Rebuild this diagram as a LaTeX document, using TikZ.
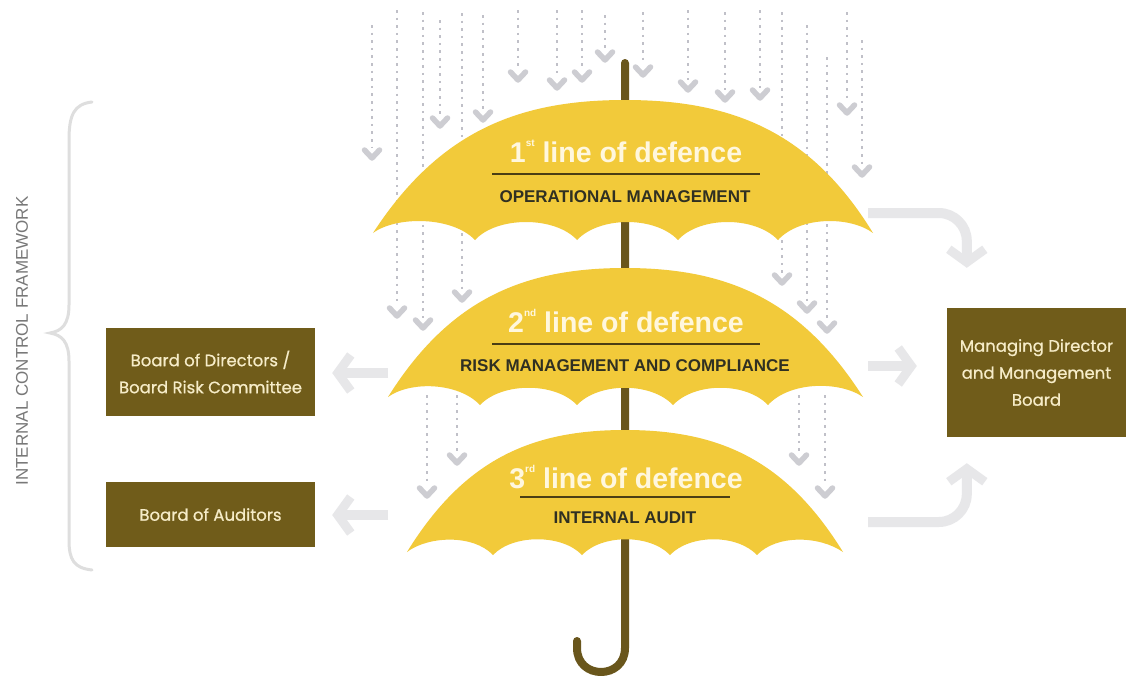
\documentclass[tikz,border=0pt]{standalone}
\usepackage{fontspec}
\setmainfont{Liberation Sans}
\newfontfamily\boxfont{Poppins}[FakeBold=0.7]
\usetikzlibrary{arrows.meta}
\definecolor{umyellow}{RGB}{242,202,58}
\definecolor{stemc}{RGB}{105,86,28}
\definecolor{boxc}{RGB}{112,92,26}
\definecolor{boxtext}{RGB}{246,236,200}
\definecolor{titlec}{RGB}{255,247,222}
\definecolor{subc}{RGB}{48,48,34}
\definecolor{linec}{RGB}{75,62,20}
\definecolor{arrowc}{RGB}{231,231,233}
\definecolor{dropc}{RGB}{192,192,200}
\definecolor{chevc}{RGB}{205,205,210}
\definecolor{bracec}{RGB}{222,222,222}
\definecolor{sidec}{RGB}{120,120,120}
\newcommand\ordsup[1]{\raisebox{0.55em}{\fontsize{10}{10}\selectfont #1}}
\begin{document}
\begin{tikzpicture}[x=1pt,y=-1pt,
  canopy/.style={fill=umyellow,draw=none},
  stemline/.style={draw=stemc,line width=8pt,line cap=round},
  dropline/.style={draw=dropc,line width=2.6pt,dash pattern=on 2.6pt off 5pt},
  chev/.style={draw=chevc,line width=5.5pt,line cap=round,line join=round},
  titletext/.style={text=titlec,font=\bfseries\fontsize{28.5}{32}\selectfont,anchor=base,inner sep=0pt},
  subtext/.style={text=subc,font=\bfseries\fontsize{17}{20}\selectfont,anchor=base,inner sep=0pt},
  rule/.style={draw=linec,line width=2.2pt},
  boxn/.style={fill=boxc,text=boxtext,align=center,inner sep=0pt,
    font=\boxfont\fontsize{16.5}{27}\selectfont},
  garrow/.style={draw=arrowc,line width=10pt,
    -{Straight Barb[length=13pt,width=36pt,line width=9pt]}},
  bracel/.style={draw=bracec,line width=3pt,line cap=round},
  sidetext/.style={text=sidec,font=\fontsize{17}{20}\selectfont,inner sep=0pt}
]
\useasboundingbox[fill=white] (0,0) rectangle (1126,675);

% brace and side label
\draw[bracel] (92,102) .. controls (74,104) and (69,115) .. (69,140) -- (69,305)
  .. controls (69,324) and (62,331) .. (50,333) .. controls (62,335) and (69,342) .. (69,361)
  -- (69,540) .. controls (69,560) and (74,568) .. (92,570);
\node[sidetext,rotate=90] (icf) at (22,341) {INTERNAL CONTROL FRAMEWORK};

% rain
\foreach \x/\ys/\ye in {372/25/160, 397/10/318, 423/12/330, 440/20/128, 462/13/302,
  483/15/122, 518/10/82, 557/10/90, 582/10/82, 605/15/62, 643/12/77, 688/10/92,
  725/12/102, 760/10/100, 782/12/285, 807/25/313, 827/57/333, 847/12/115, 862/40/177,
  427/395/498, 457/395/465, 799/395/465, 825/395/498}{
  \draw[dropline] (\x,\ys) -- (\x,\ye-12);
  \draw[chev] (\x-7.5,\ye-10) -- (\x,\ye-2) -- (\x+7.5,\ye-10);
}

% stem and handle
\draw[stemline] (625,63) -- (625,648) .. controls (625,680) and (577,680) .. (577,648) -- (577,641);

% canopy 1
\fill[canopy] (373,233) .. controls (440,130) and (520,100) .. (625,100)
  .. controls (730,100) and (810,130) .. (873,233)
  .. controls (850,216) and (800,216) .. (778,240)
  .. controls (755,216) and (700,216) .. (678,240)
  .. controls (655,216) and (600,216) .. (577,240)
  .. controls (555,216) and (497,216) .. (475,240)
  .. controls (452,216) and (396,216) .. (373,233) -- cycle;
% canopy 2
\fill[canopy] (388,397) .. controls (450,298) and (525,268) .. (625,268)
  .. controls (725,268) and (800,298) .. (863,397)
  .. controls (840,381) and (790,381) .. (768,405)
  .. controls (746,382) and (695,382) .. (673,405)
  .. controls (651,382) and (599,382) .. (577,405)
  .. controls (555,382) and (502,382) .. (480,405)
  .. controls (458,382) and (410,381) .. (388,397) -- cycle;
% canopy 3
\fill[canopy] (407,552) .. controls (465,458) and (533,430) .. (625,430)
  .. controls (717,430) and (785,458) .. (843,552)
  .. controls (820,536) and (777,534) .. (757,555)
  .. controls (737,534) and (690,534) .. (670,555)
  .. controls (650,534) and (602,534) .. (582,555)
  .. controls (562,534) and (513,534) .. (493,555)
  .. controls (473,534) and (428,536) .. (407,552) -- cycle;

% texts on canopies
\node[titletext] (t1) at (626,162) {1\ordsup{st} line of defence};
\draw[rule] (492,174) -- (760,174);
\node[subtext] (s1) at (625,202) {OPERATIONAL MANAGEMENT};
\node[titletext] (t2) at (626,332) {2\ordsup{nd} line of defence};
\draw[rule] (492,344) -- (760,344);
\node[subtext] (s2) at (625,371) {RISK MANAGEMENT AND COMPLIANCE};
\node[titletext] (t3) at (626,488) {3\ordsup{rd} line of defence};
\draw[rule] (520,497) -- (730,497);
\node[subtext] (s3) at (625,523) {INTERNAL AUDIT};

% boxes
\node[boxn,minimum width=209pt,minimum height=88pt] (bod) at (210.5,372) {Board of Directors /\\Board Risk Committee};
\node[boxn,minimum width=209pt,minimum height=65pt] (boa) at (210.5,514.5) {Board of Auditors};
\node[boxn,minimum width=179pt,minimum height=129pt] (mdb) at (1036.5,372.5) {Managing Director\\and Management\\Board};

% arrows
\coordinate (l2) at (388,373);
\coordinate (l3) at (388,515);
\coordinate (r1) at (868,213);
\coordinate (r2) at (868,366);
\coordinate (r3) at (868,522);
\draw[garrow,shorten >=17pt] (l2) -- (l2 -| bod.east);
\draw[garrow,shorten >=17pt] (l3) -- (l3 -| boa.east);
\draw[garrow,shorten >=30pt] (r2) -- (r2 -| mdb.west);
\draw[garrow,rounded corners=28pt,shorten >=40pt] (r1) -| ([xshift=20pt]mdb.north west);
\draw[garrow,rounded corners=28pt,shorten >=26pt] (r3) -| ([xshift=20pt]mdb.south west);
\end{tikzpicture}
\end{document}
